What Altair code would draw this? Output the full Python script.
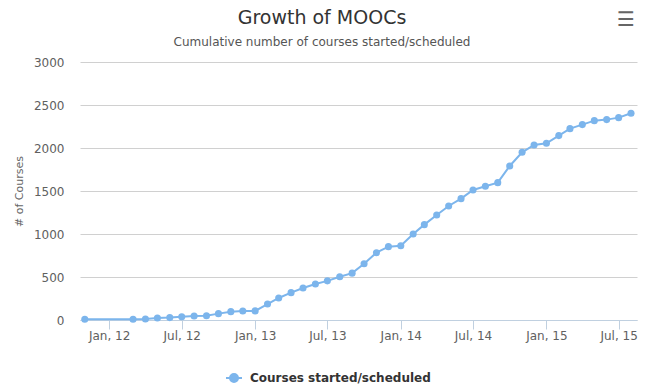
import altair as alt
import pandas as pd

months = [
    "2011-11-01",
    "2012-03-01", "2012-04-01", "2012-05-01", "2012-06-01", "2012-07-01",
    "2012-08-01", "2012-09-01", "2012-10-01", "2012-11-01", "2012-12-01",
    "2013-01-01", "2013-02-01", "2013-03-01", "2013-04-01", "2013-05-01",
    "2013-06-01", "2013-07-01", "2013-08-01", "2013-09-01", "2013-10-01",
    "2013-11-01", "2013-12-01",
    "2014-01-01", "2014-02-01", "2014-03-01", "2014-04-01", "2014-05-01",
    "2014-06-01", "2014-07-01", "2014-08-01", "2014-09-01", "2014-10-01",
    "2014-11-01", "2014-12-01",
    "2015-01-01", "2015-02-01", "2015-03-01", "2015-04-01", "2015-05-01",
    "2015-06-01", "2015-07-01", "2015-08-01",
]
courses = [
    8,
    8, 12, 23, 28, 38, 46, 50, 74, 97, 105,
    106, 186, 256, 318, 372, 419, 455, 502, 545, 655, 783, 853,
    864, 1000, 1109, 1221, 1326, 1411, 1512, 1555, 1597, 1791, 1950, 2035,
    2055, 2144, 2225, 2272, 2318, 2330, 2353, 2404,
]
series_name = "Courses started/scheduled"
title_text = "Growth of MOOCs"
subtitle_text = "Cumulative number of courses started/scheduled"
x_ticks = [(2012, 1), (2012, 7), (2013, 1), (2013, 7), (2014, 1), (2014, 7), (2015, 1), (2015, 7)]
y_ticks = [0, 500, 1000, 1500, 2000, 2500, 3000]

df = pd.DataFrame({"month": months, "courses": courses, "series": series_name})

FONT = "DejaVu Sans"
COLOR = "#7cb5ec"

x_enc = alt.X(
    "month:T",
    scale=alt.Scale(
        type="utc",
        domain=[alt.DateTime(year=2011, month=10, date=20, utc=True),
                alt.DateTime(year=2015, month=8, date=16, utc=True)],
    ),
    axis=alt.Axis(
        title=None,
        values=[alt.DateTime(year=y, month=m, date=1, utc=True) for y, m in x_ticks],
        labelExpr="utcFormat(datum.value, '%b, %y')",
        grid=False,
        domainColor="#C0D0E0",
        tickColor="#C0D0E0",
        tickSize=9,
        labelPadding=1,
        labelFont=FONT,
        labelFontSize=12,
        labelColor="#606060",
    ),
)
y_enc = alt.Y(
    "courses:Q",
    scale=alt.Scale(domain=[0, 3000], nice=False),
    axis=alt.Axis(
        title="# of Courses",
        values=y_ticks,
        format="d",
        grid=True,
        gridColor="#D0D0D0",
        domain=False,
        ticks=False,
        labelPadding=16,
        labelFont=FONT,
        labelFontSize=12,
        labelColor="#606060",
        titleFont=FONT,
        titleFontSize=11,
        titleFontWeight="normal",
        titleColor="#666666",
        titleAngle=270,
        titleX=-61,
        titleY=129,
        titleAlign="center",
        titleBaseline="middle",
    ),
)
color_enc = alt.Color(
    "series:N",
    scale=alt.Scale(domain=[series_name], range=[COLOR]),
    legend=alt.Legend(
        title=None,
        orient="none",
        legendX=148,
        legendY=310,
        padding=0,
        symbolType="M-2,0L2,0M-1,0A1,1,0,1,0,1,0A1,1,0,1,0,-1,0Z",
        symbolSize=64,
        symbolFillColor=COLOR,
        symbolStrokeColor=COLOR,
        symbolStrokeWidth=2,
        labelOffset=10,
        labelLimit=400,
        labelFont=FONT,
        labelFontSize=12,
        labelFontWeight="bold",
        labelColor="#333333",
        labelBaseline="middle",
    ),
)

base = alt.Chart(df)
line = base.mark_line(strokeWidth=2, color=COLOR).encode(x=x_enc, y=y_enc, color=color_enc)
points = base.mark_circle(size=50, opacity=1, color=COLOR).encode(x=x_enc, y=y_enc, color=color_enc)

labels_df = pd.DataFrame({"t": [title_text], "s": [subtitle_text], "m": ["\u2630"]})
title_mark = alt.Chart(labels_df).mark_text(
    font=FONT, fontSize=19, color="#333333", align="center", baseline="alphabetic"
).encode(text="t:N", x=alt.value(242), y=alt.value(-38))
subtitle_mark = alt.Chart(labels_df).mark_text(
    font=FONT, fontSize=12, color="#555555", align="center", baseline="alphabetic"
).encode(text="s:N", x=alt.value(242), y=alt.value(-16))
menu = alt.Chart(labels_df).mark_text(
    font=FONT, fontSize=20, color="#666666", align="center", baseline="middle"
).encode(text="m:N", x=alt.value(546), y=alt.value(-42))

chart = alt.layer(line, points, title_mark, subtitle_mark, menu).properties(
    width=557,
    height=258,
    background="white",
    autosize=alt.AutoSizeParams(type="none"),
    padding={"left": 72, "top": 54, "right": 6, "bottom": 64},
).configure_view(strokeWidth=0)

chart.save("out.html", embed_options={"renderer": "svg", "actions": False})
